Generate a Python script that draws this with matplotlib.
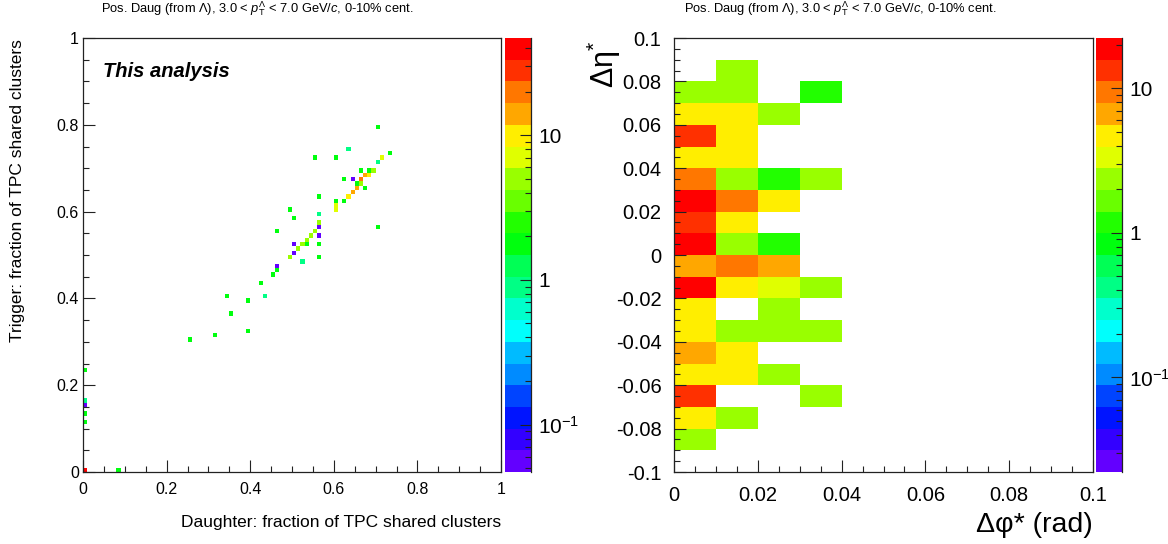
import colorsys
import numpy as np
import matplotlib
matplotlib.use("Agg")
import matplotlib.pyplot as plt
from matplotlib.colors import ListedColormap, LogNorm
from matplotlib.ticker import MultipleLocator, LogLocator, FuncFormatter

plt.rcParams['font.family'] = ['Liberation Sans', 'DejaVu Sans']
plt.rcParams['mathtext.fontset'] = 'custom'
plt.rcParams['mathtext.rm'] = 'Liberation Sans'
plt.rcParams['mathtext.it'] = 'Liberation Sans:italic'
plt.rcParams['mathtext.bf'] = 'Liberation Sans:bold'
plt.rcParams['axes.unicode_minus'] = False

# ---- left panel: shared-cluster fractions (bin centre x, y, content)
daug_frac = [0.709, 0.639, 0.730, 0.550, 0.609, 0.719, 0.709, 0.669, 0.683, 0.699,
             0.690, 0.679, 0.620, 0.640, 0.669, 0.650, 0.660, 0.650, 0.670, 0.640,
             0.570, 0.630, 0.609, 0.620, 0.609, 0.600, 0.490, 0.500, 0.560, 0.570,
             0.560, 0.709, 0.470, 0.550, 0.540, 0.560, 0.530, 0.500, 0.520, 0.530,
             0.570, 0.510, 0.500, 0.490, 0.570, 0.520, 0.470, 0.460, 0.450,
             0.251, 0.311, 0.342, 0.359, 0.390, 0.392, 0.428, 0.437,
             0.005, 0.005, 0.005, 0.005, 0.005, 0.005, 0.082]
trig_frac = [0.798, 0.749, 0.739, 0.720, 0.720, 0.720, 0.710, 0.699, 0.699, 0.699,
             0.690, 0.680, 0.670, 0.670, 0.670, 0.660, 0.660, 0.650, 0.650, 0.640,
             0.631, 0.631, 0.621, 0.621, 0.611, 0.601, 0.601, 0.581, 0.591, 0.571,
             0.561, 0.561, 0.551, 0.551, 0.541, 0.541, 0.532, 0.521, 0.521, 0.521,
             0.521, 0.512, 0.502, 0.491, 0.491, 0.482, 0.472, 0.461, 0.452,
             0.302, 0.313, 0.403, 0.364, 0.396, 0.325, 0.431, 0.405,
             0.235, 0.167, 0.157, 0.137, 0.116, 0.005, 0.005]
left_counts = [2, 1, 2, 2, 2, 7, 1, 2, 2, 5,
               10, 14, 2, 0.06, 20, 2, 5, 14, 2, 14,
               2, 10, 2, 2, 7, 7, 2, 2, 1, 5,
               0.06, 2, 2, 5, 5, 0.06, 5, 0.06, 5, 2,
               2, 5, 0.06, 5, 2, 1, 0.06, 2, 2,
               2, 2, 2, 2, 2, 2, 2, 1,
               2, 1, 0.06, 2, 2, 40, 2]

# ---- right panel: d-eta* rows from top (0.09..0.1) down to (-0.1..-0.09),
# columns d-phi* = 0-0.01, 0.01-0.02, 0.02-0.03, 0.03-0.04
right_counts = [
    [0, 0, 0, 0],
    [0, 2, 0, 0],
    [2, 2, 0, 1],
    [5, 4, 2, 0],
    [13, 5, 0, 0],
    [4, 5, 0, 0],
    [9, 2, 1, 2],
    [18, 9, 4, 0],
    [14, 5, 0, 0],
    [19, 2, 1, 0],
    [7, 10, 6, 0],
    [17, 5, 3, 2],
    [5, 0, 2, 0],
    [4, 2, 2, 2],
    [7, 4, 0, 0],
    [5, 5, 2, 0],
    [14, 0, 0, 2],
    [4, 2, 0, 0],
    [2, 0, 0, 0],
    [0, 0, 0, 0],
]

title = "Pos. Daug (from $\\Lambda$), 3.0 < $p_{\\mathrm{T}}^{\\Lambda}$ < 7.0 GeV/$c$, 0-10% cent."

# ROOT "pretty" palette, 20 contours
idx = [int((k + 0.99) * 50 / 20) for k in range(20)]
hues = [280 - (j + 1) * 5.6 if j < 49 else 0 for j in idx]
palette = ListedColormap([colorsys.hls_to_rgb(h / 360.0, 0.5, 1.0) for h in hues])

fig = plt.figure(figsize=(11.68, 5.44), dpi=100)
ax1 = fig.add_axes([83 / 1168, 72 / 544, 418 / 1168, 434 / 544])
cax1 = fig.add_axes([505 / 1168, 72 / 544, 26 / 1168, 434 / 544])
ax2 = fig.add_axes([674 / 1168, 72 / 544, 419 / 1168, 434 / 544])
cax2 = fig.add_axes([1096 / 1168, 72 / 544, 26 / 1168, 434 / 544])

H, xe, ye = np.histogram2d(daug_frac, trig_frac, bins=100, range=[[0, 1], [0, 1]],
                           weights=left_counts)
m1 = ax1.pcolormesh(xe, ye, np.ma.masked_equal(H.T, 0), cmap=palette,
                    norm=LogNorm(0.047, 47))

grid = np.zeros((20, 10))
grid[:, :4] = np.array(right_counts)[::-1]
dphi_edges = np.linspace(0, 0.1, 11)
deta_edges = np.linspace(-0.1, 0.1, 21)
m2 = ax2.pcolormesh(dphi_edges, deta_edges, np.ma.masked_equal(grid, 0), cmap=palette,
                    norm=LogNorm(0.0222, 22.2))


def fmt(v, pos):
    return "%g" % (round(v, 4) + 0.0)


def style(ax, xlim, ylim, xmaj, xmin, ymaj, ymin, size, xpad, ypad):
    ax.set_xlim(*xlim)
    ax.set_ylim(*ylim)
    ax.xaxis.set_major_locator(MultipleLocator(xmaj))
    ax.xaxis.set_minor_locator(MultipleLocator(xmin))
    ax.yaxis.set_major_locator(MultipleLocator(ymaj))
    ax.yaxis.set_minor_locator(MultipleLocator(ymin))
    ax.xaxis.set_major_formatter(FuncFormatter(fmt))
    ax.yaxis.set_major_formatter(FuncFormatter(fmt))
    ax.tick_params(which='both', direction='in', top=False, right=False, width=0.8,
                   color='#222222')
    ax.tick_params(which='major', length=8.5, labelsize=size)
    ax.tick_params(which='minor', length=4.3)
    ax.tick_params(axis='x', pad=xpad)
    ax.tick_params(axis='y', pad=ypad)
    for s in ax.spines.values():
        s.set_linewidth(0.9)
        s.set_color('#222222')


style(ax1, (0, 1), (0, 1), 0.2, 0.05, 0.2, 0.05, 11.5, 7, 3)
style(ax2, (0, 0.1), (-0.1, 0.1), 0.02, 0.005, 0.02, 0.005, 14.5, 10, 9)

for cb_ax, mesh in ((cax1, m1), (cax2, m2)):
    cb = fig.colorbar(mesh, cax=cb_ax)
    cb.outline.set_visible(False)
    cb_ax.plot([1, 1], [0, 1], transform=cb_ax.transAxes, color='#222222', lw=0.9,
               clip_on=False)
    cb.set_ticks([0.1, 1, 10])
    cb.set_ticklabels(['10$^{-1}$', '1', '10'])
    cb_ax.yaxis.set_minor_locator(LogLocator(base=10, subs=[2, 3, 4, 5, 6, 7, 8, 9],
                                             numticks=20))
    cb_ax.tick_params(which='both', direction='in', right=True, left=False,
                      color='#222222', width=0.8)
    cb_ax.tick_params(which='major', length=8, labelsize=15, pad=5)
    cb_ax.tick_params(which='minor', length=4.5)

ax1.text(0.048, 0.922, "This analysis", transform=ax1.transAxes, fontsize=14.5,
         fontweight='bold', fontstyle='italic', va='center', ha='left')

fig.text(257 / 1168, 1 - 9 / 544, title, fontsize=9.3, ha='center', va='center')
fig.text(840 / 1168, 1 - 9 / 544, title, fontsize=9.3, ha='center', va='center')

fig.text(501 / 1168, 1 - 522 / 544, "Daughter: fraction of TPC shared clusters",
         fontsize=12.5, ha='right', va='center')
fig.text(18 / 1168, 1 - 39 / 544, "Trigger: fraction of TPC shared clusters",
         fontsize=12.5, ha='center', va='top', rotation=90)

fig.text(1093 / 1168, 1 - 538 / 544, "Δφ* (rad)", fontsize=20.5,
         ha='right', va='bottom')
fig.text(604 / 1168, 1 - 40 / 544, "Δη$^{*}$", fontsize=22,
         ha='center', va='top', rotation=90)

fig.savefig("out.png", dpi=100, facecolor='white')
